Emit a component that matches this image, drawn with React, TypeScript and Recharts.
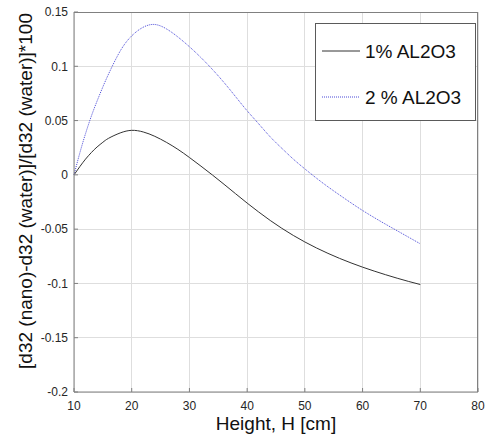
import React from "react";
import { LineChart, Line, XAxis, YAxis, CartesianGrid, ReferenceLine, Label } from "recharts";

const heights = [10, 11, 12, 13, 14, 15, 16, 18, 20, 22, 24, 26, 28, 30, 32, 34, 36, 38, 40, 42, 44, 46, 48, 50, 52, 54, 56, 58, 60, 62, 64, 66, 68, 70];
const al1 = [0, 0.0075, 0.0145, 0.0205, 0.0257, 0.030, 0.0337, 0.0386, 0.041, 0.0395, 0.0355, 0.030, 0.0235, 0.016, 0.008, -0.0002, -0.0087, -0.0174, -0.026, -0.0342, -0.042, -0.0492, -0.0558, -0.0618, -0.0673, -0.0723, -0.0769, -0.0811, -0.085, -0.0886, -0.092, -0.0952, -0.0982, -0.101];
const al2 = [0, 0.02, 0.038, 0.054, 0.068, 0.081, 0.093, 0.114, 0.128, 0.136, 0.1385, 0.1345, 0.127, 0.118, 0.108, 0.097, 0.085, 0.072, 0.059, 0.047, 0.035, 0.0245, 0.0145, 0.0055, -0.003, -0.011, -0.0185, -0.0258, -0.0328, -0.0393, -0.0455, -0.0515, -0.0575, -0.0635];

const xTicks = [10, 20, 30, 40, 50, 60, 70, 80];
const yTicks = [-0.2, -0.15, -0.1, -0.05, 0, 0.05, 0.1, 0.15];
const seriesNames = ["1% AL2O3", "2 % AL2O3"];
const xLabel = "Height, H [cm]";
const yLabel = "[d32 (nano)-d32 (water)]/[d32 (water)]*100";

const data = heights.map((h, i) => ({ h, a: al1[i], b: al2[i] }));

const FONT = "'Liberation Sans', Arial, sans-serif";
const AXIS = "#808080";
const TXT = "#262626";
const GRID = "#dedede";
const BLACK_LINE = "#333333";
const BLUE_LINE = "#4b4bd8";

export default function App() {
  return (
    <div style={{ position: "absolute", left: 0, top: 0, width: 487, height: 439, background: "#fff" }}>
      <LineChart width={487} height={439} data={data} margin={{ top: 12, right: 9, left: 0, bottom: 0 }}>
        <CartesianGrid stroke={GRID} strokeWidth={1} shapeRendering="crispEdges" />
        {xTicks.slice(1, -1).map((t) => (
          <ReferenceLine key={"gx" + t} x={t} stroke={GRID} strokeWidth={1} shapeRendering="crispEdges" />
        ))}
        {yTicks.slice(1, -1).map((t) => (
          <ReferenceLine key={"gy" + t} y={t} stroke={GRID} strokeWidth={1} shapeRendering="crispEdges" />
        ))}
        <XAxis
          dataKey="h"
          type="number"
          domain={[10, 80]}
          ticks={xTicks}
          height={47}
          stroke={AXIS}
          tickSize={-4}
          tickMargin={13}
          tick={{ fill: TXT, fontSize: 12, fontFamily: FONT }}
        >
          <Label
            content={() => (
              <text x={276} y={423} textAnchor="middle" dominantBaseline="central" fontSize={19} fontFamily={FONT} fill="#111">
                {xLabel}
              </text>
            )}
          />
        </XAxis>
        <YAxis
          type="number"
          domain={[-0.2, 0.15]}
          ticks={yTicks}
          width={74}
          stroke={AXIS}
          tickSize={-4}
          tickMargin={10}
          tick={{ fill: TXT, fontSize: 12, fontFamily: FONT }}
        >
          <Label
            content={() => (
              <text x={25} y={191} transform="rotate(-90 25 191)" textAnchor="middle" dominantBaseline="central" fontSize={19} fontFamily={FONT} fill="#111">
                {yLabel}
              </text>
            )}
          />
        </YAxis>
        <Line dataKey="a" name={seriesNames[0]} type="natural" stroke={BLACK_LINE} strokeWidth={1} dot={false} isAnimationActive={false} />
        <Line dataKey="b" name={seriesNames[1]} type="natural" stroke={BLUE_LINE} strokeWidth={1} strokeDasharray="1 1" dot={false} isAnimationActive={false} />
      </LineChart>
      <div
        style={{
          position: "absolute",
          left: 74,
          top: 12,
          width: 404,
          height: 380,
          borderTop: "1px solid " + AXIS,
          borderRight: "1px solid " + AXIS,
          boxSizing: "border-box",
          pointerEvents: "none",
        }}
      />
      <div
        style={{
          position: "absolute",
          left: 315,
          top: 23,
          width: 161,
          height: 98,
          border: "1px solid #5a5a5a",
          background: "#fff",
          boxSizing: "border-box",
        }}
      >
        <svg width={161} height={98} style={{ position: "absolute", left: -1, top: -1 }}>
          <line x1={7} y1={28} x2={45} y2={28} stroke={BLACK_LINE} strokeWidth={1} />
          <text x={50} y={28} dominantBaseline="central" fontSize={19} fontFamily={FONT} fill="#111">
            {seriesNames[0]}
          </text>
          <line x1={7} y1={74} x2={45} y2={74} stroke={BLUE_LINE} strokeWidth={1} strokeDasharray="1 1" />
          <text x={50} y={74} dominantBaseline="central" fontSize={19} fontFamily={FONT} fill="#111">
            {seriesNames[1]}
          </text>
        </svg>
      </div>
    </div>
  );
}
